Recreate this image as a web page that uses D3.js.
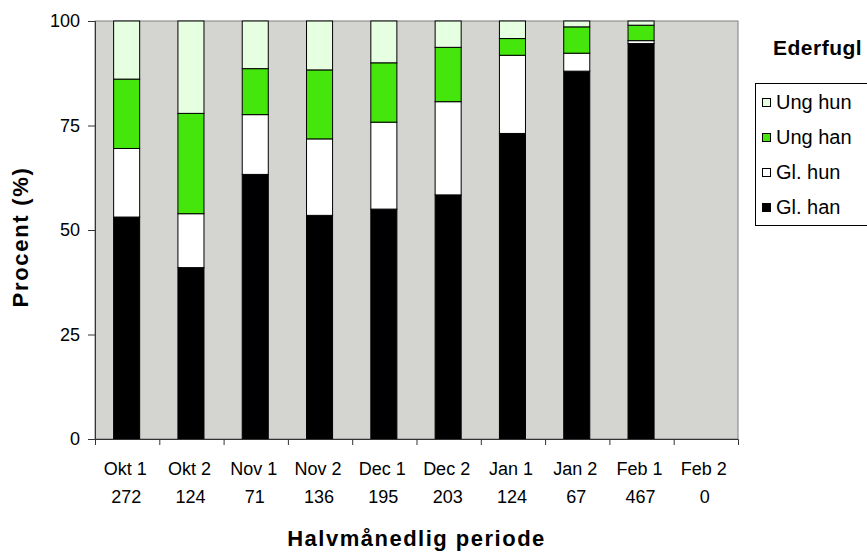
<!DOCTYPE html>
<html lang="da">
<head>
  <meta charset="utf-8">
  <title>Ederfugl</title>
  <script src="https://d3js.org/d3.v7.min.js"></script>
  <style>
    body {
      margin: 0;
      background: #fff;
      font-family: 'Liberation Sans', Arial, sans-serif;
    }
    .tick text { font-family: 'Liberation Sans', Arial, sans-serif; }
  </style>
</head>
<body>
<div id="chart"></div>

<script>
  // periods and counts (n) per half month
  var periods = ["Okt 1", "Okt 2", "Nov 1", "Nov 2", "Dec 1", "Dec 2", "Jan 1", "Jan 2", "Feb 1", "Feb 2"];
  var counts = [272, 124, 71, 136, 195, 203, 124, 67, 467, 0];

  // share in percent, bottom to top
  var glHan  = [53.1, 41.0, 63.3, 53.5, 55.0, 58.4, 73.1, 88.0, 94.6, 0];
  var glHun  = [16.4, 12.9, 14.3, 18.3, 20.8, 22.3, 18.7, 4.3, 0.7, 0];
  var ungHan = [16.6, 24.0, 11.0, 16.5, 14.2, 13.0, 4.0, 6.3, 3.7, 0];
  var ungHun = [13.9, 22.1, 11.4, 11.7, 10.0, 6.3, 4.2, 1.4, 1.0, 0];

  var seriesNames = ["Gl. han", "Gl. hun", "Ung han", "Ung hun"];
  var seriesColors = ["#000000", "#ffffff", "#44e60c", "#e6ffe1"];
  var yTicks = [0, 25, 50, 75, 100];

  var W = 867, H = 552;
  var margin = {top: 21, right: 129, bottom: 113, left: 95};
  var width = W - margin.left - margin.right,
      height = H - margin.top - margin.bottom;

  var svg = d3.select("#chart")
    .append("svg")
    .attr("width", W)
    .attr("height", H);

  var g = svg.append("g")
    .attr("transform", "translate(" + margin.left + "," + margin.top + ")");

  // build rows for stacking
  var rows = periods.map(function(p, i) {
    return {period: p, "Gl. han": glHan[i], "Gl. hun": glHun[i], "Ung han": ungHan[i], "Ung hun": ungHun[i], n: counts[i]};
  });

  var x = d3.scaleBand().domain(periods).range([0, width]).padding(0);
  var y = d3.scaleLinear().domain([0, 100]).range([height, 0]);
  var color = d3.scaleOrdinal().domain(seriesNames).range(seriesColors);

  // plot area background
  g.append("rect")
    .attr("width", width)
    .attr("height", height)
    .attr("fill", "#d4d5d0")
    .attr("stroke", "#808080")
    .attr("stroke-width", 1);

  var stack = d3.stack().keys(seriesNames);
  var layers = stack(rows);
  var barW = x.bandwidth() * 0.405;

  g.selectAll("g.layer")
    .data(layers)
    .enter().append("g")
    .attr("class", "layer")
    .attr("fill", function(d) { return color(d.key); })
    .selectAll("rect")
    .data(function(d) { return d.filter(function(s) { return s[1] - s[0] > 0; }); })
    .enter().append("rect")
    .attr("x", function(d) { return x(d.data.period) + (x.bandwidth() - barW) / 2 - 0.5; })
    .attr("y", function(d) { return y(d[1]); })
    .attr("width", barW)
    .attr("height", function(d) { return y(d[0]) - y(d[1]); })
    .attr("stroke", "#000")
    .attr("stroke-width", 1);

  // y axis
  var yAxis = g.append("g")
    .call(d3.axisLeft(y).tickValues(yTicks).tickSize(7).tickPadding(8));
  yAxis.select(".domain").attr("stroke", "#333");
  yAxis.selectAll(".tick line").attr("stroke", "#333");
  yAxis.selectAll("text")
    .attr("font-size", "18px")
    .attr("fill", "#000");

  // x axis (ticks between categories)
  var xEdges = d3.range(periods.length + 1);
  var xe = d3.scaleLinear().domain([0, periods.length]).range([0, width]);
  var xAxis = g.append("g")
    .attr("transform", "translate(0," + height + ")")
    .call(d3.axisBottom(xe).tickValues(xEdges.slice(0, periods.length)).tickSize(6).tickFormat(""));
  xAxis.select(".domain").attr("stroke", "#333");
  xAxis.selectAll(".tick line").attr("stroke", "#333");

  // category labels: period and count
  var lab = g.append("g")
    .attr("font-size", "18px")
    .attr("text-anchor", "middle");
  lab.selectAll("text.period")
    .data(rows)
    .enter().append("text")
    .attr("class", "period")
    .attr("x", function(d) { return x(d.period) + x.bandwidth() / 2 - 2; })
    .attr("y", height + 36)
    .text(function(d) { return d.period; });
  lab.selectAll("text.count")
    .data(rows)
    .enter().append("text")
    .attr("class", "count")
    .attr("x", function(d) { return x(d.period) + x.bandwidth() / 2 - 1; })
    .attr("y", height + 64)
    .text(function(d) { return d.n; });

  // axis titles
  svg.append("text")
    .attr("x", margin.left + width / 2)
    .attr("y", 546)
    .attr("text-anchor", "middle")
    .attr("font-size", "22px")
    .attr("font-weight", "bold")
    .attr("letter-spacing", "1.5px")
    .text("Halvmånedlig periode");

  svg.append("text")
    .attr("transform", "translate(28," + 237 + ") rotate(-90)")
    .attr("text-anchor", "middle")
    .attr("font-size", "22px")
    .attr("font-weight", "bold")
    .attr("letter-spacing", "1.7px")
    .text("Procent (%)");

  // legend
  svg.append("text")
    .attr("x", 773)
    .attr("y", 55)
    .attr("font-size", "21px")
    .attr("font-weight", "bold")
    .attr("letter-spacing", "0.5px")
    .text("Ederfugl");

  var legend = svg.append("g").attr("transform", "translate(755,83)");
  legend.append("rect")
    .attr("x", 0.5).attr("y", 0.5)
    .attr("width", 130).attr("height", 142)
    .attr("fill", "#fff")
    .attr("stroke", "#000");

  var legendOrder = seriesNames.slice().reverse();
  var items = legend.selectAll("g.item")
    .data(legendOrder)
    .enter().append("g")
    .attr("class", "item")
    .attr("transform", function(d, i) { return "translate(7," + (16 + i * 35) + ")"; });
  items.append("rect")
    .attr("x", 0.5).attr("y", -0.5)
    .attr("width", 8).attr("height", 8)
    .attr("fill", function(d) { return color(d); })
    .attr("stroke", "#000");
  items.append("text")
    .attr("x", 14)
    .attr("y", 10)
    .attr("font-size", "20px")
    .text(function(d) { return d; });
</script>
</body>
</html>
